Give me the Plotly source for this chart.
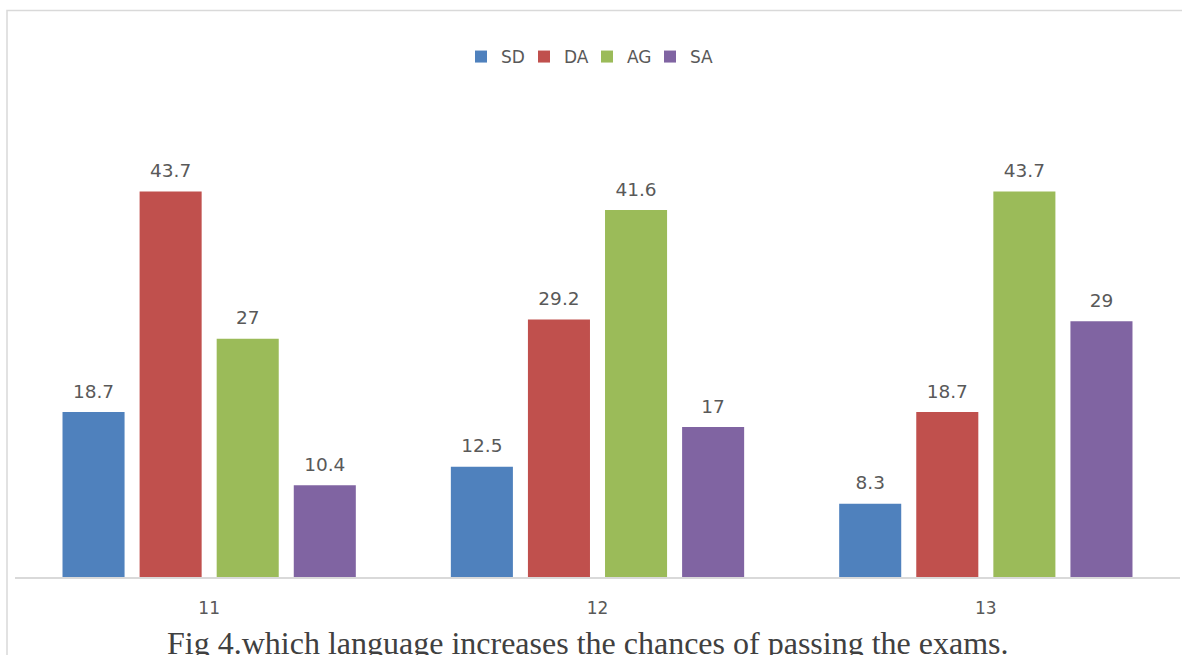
import plotly.graph_objects as go

categories = ["11", "12", "13"]
series_names = ["SD", "DA", "AG", "SA"]
sd_values = [18.7, 12.5, 8.3]
da_values = [43.7, 29.2, 18.7]
ag_values = [27, 41.6, 43.7]
sa_values = [10.4, 17, 29]
colors = ["#4F81BD", "#C0504D", "#9BBB59", "#8064A2"]
caption = "Fig 4.which language increases the chances of passing the exams."

W, H = 1182, 655
ML, MR, MT, MB = 15, 2, 136, 78
plot_w = W - ML - MR
plot_h = H - MT - MB
SANS = "DejaVu Sans, Calibri, sans-serif"
LABEL_FONT = dict(family=SANS, size=18.5, color="#595959")


def px_to_paper_x(px):
    return (px - ML) / plot_w


def px_to_paper_y(py):
    return (H - MB - py) / plot_h


fig = go.Figure()
all_values = [sd_values, da_values, ag_values, sa_values]
for name, vals, col in zip(series_names, all_values, colors):
    fig.add_trace(go.Bar(
        name=name, x=categories, y=vals, marker=dict(color=col, line=dict(width=0)),
        hoverinfo="skip", offsetgroup=name,
    ))
# data labels (invisible markers to space the labels above the bars)
for name, vals in zip(series_names, all_values):
    fig.add_trace(go.Scatter(
        x=categories, y=vals, mode="markers+text", showlegend=False,
        text=[f"{v:g}" for v in vals], textposition="top center",
        marker=dict(size=14, opacity=0), textfont=LABEL_FONT,
        cliponaxis=False, hoverinfo="skip", offsetgroup=name,
    ))

fig.update_layout(
    width=W, height=H,
    margin=dict(l=ML, r=MR, t=MT, b=MB, pad=0),
    paper_bgcolor="white", plot_bgcolor="white",
    barmode="group", bargap=0.206, bargroupgap=0.195,
    scattermode="group", scattergap=0.206,
    showlegend=True,
    legend=dict(orientation="h", x=px_to_paper_x(587), xanchor="center", y=px_to_paper_y(39), yanchor="top",
                font=dict(family=SANS, size=17, color="#595959"),
                itemwidth=30, traceorder="normal", entrywidth=18, entrywidthmode="pixels"),
    font=dict(family=SANS, color="#595959"),
    xaxis=dict(type="category", showline=True, linecolor="#D9D9D9", linewidth=1.5,
               showgrid=False, ticks="", ticklabelstandoff=15,
               tickfont=dict(family=SANS, size=17, color="#595959")),
    yaxis=dict(range=[0, 50], visible=False, showgrid=False),
)

# chart border
fig.add_shape(type="rect", xref="paper", yref="paper",
              x0=px_to_paper_x(7), x1=px_to_paper_x(1200),
              y0=px_to_paper_y(700), y1=px_to_paper_y(10.5),
              line=dict(color="#D9D9D9", width=1.5), fillcolor="rgba(0,0,0,0)", layer="below")

fig.add_annotation(text=caption, xref="paper", yref="paper",
                   x=px_to_paper_x(588), y=px_to_paper_y(623), xanchor="center", yanchor="top",
                   showarrow=False,
                   font=dict(family="Liberation Serif, Times New Roman, serif", size=32, color="#404040"))

fig.write_html("out.html", config={"displayModeBar": False},
               post_script="document.body.style.margin='0';document.body.style.overflow='hidden';")
